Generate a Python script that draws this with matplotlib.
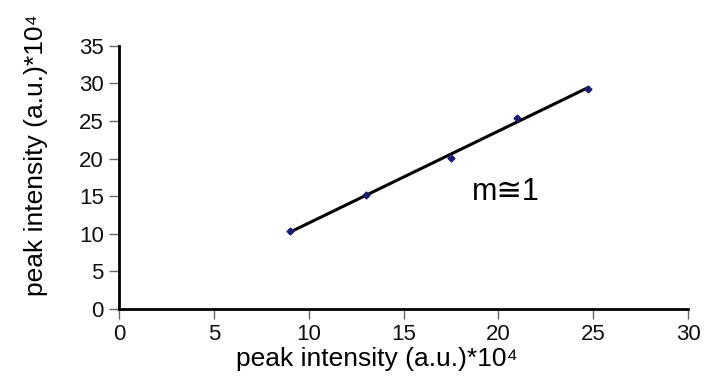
import numpy as np
import matplotlib
matplotlib.use('Agg')
import matplotlib.pyplot as plt

plt.rcParams['font.family'] = ['Liberation Sans', 'DejaVu Sans']

x_vals = [9.0, 13.0, 17.5, 21.0, 24.7]
y_vals = [10.3, 15.1, 20.1, 25.4, 29.3]
x_ticks = [0, 5, 10, 15, 20, 25, 30]
y_ticks = [0, 5, 10, 15, 20, 25, 30, 35]
axis_label = 'peak intensity (a.u.)*10\u2074'

fig = plt.figure(figsize=(7.08, 3.92), dpi=100)
ax = fig.add_axes([0.168, 0.212, 0.804, 0.671])

# linear fit through the points
slope, icpt = np.polyfit(x_vals, y_vals, 1)
xs = np.array([min(x_vals), max(x_vals)])
ax.plot(xs, slope * xs + icpt, color='black', lw=2.2, zorder=2)
ax.plot(x_vals, y_vals, 'D', color='#1c1c70', ms=3.5, zorder=3)

ax.text(18.6, 15.6, 'm\u22451', fontsize=22, va='center', ha='left')

ax.set_xlim(0, 30)
ax.set_ylim(0, 35)
ax.set_xticks(x_ticks)
ax.set_yticks(y_ticks)
ax.spines['top'].set_visible(False)
ax.spines['right'].set_visible(False)
for s in ['left', 'bottom']:
    ax.spines[s].set_linewidth(2)
ax.tick_params(direction='out', length=7, width=1, colors='#666666', labelsize=16, labelcolor='#111111', pad=4)

ax.set_xlabel(axis_label, fontsize=19)
ax.set_ylabel(axis_label, fontsize=19)
ax.xaxis.set_label_coords(0.453, -0.145)
ax.yaxis.set_label_coords(-0.125, 0.586)

fig.savefig('out.png', dpi=100)
